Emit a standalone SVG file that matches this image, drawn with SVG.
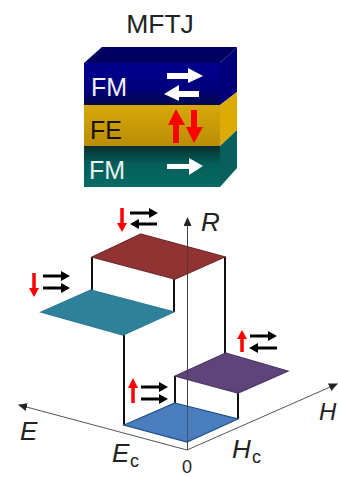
<svg xmlns="http://www.w3.org/2000/svg" width="338" height="477" viewBox="0 0 338 477">
<defs>
<linearGradient id="gBlue" x1="0" y1="0" x2="0" y2="1"><stop offset="0" stop-color="#00008f"/><stop offset="0.6" stop-color="#00007e"/><stop offset="1" stop-color="#000a4a"/></linearGradient>
<linearGradient id="gGold" x1="0" y1="0" x2="0" y2="1"><stop offset="0" stop-color="#d8a806"/><stop offset="1" stop-color="#b98d08"/></linearGradient>
<linearGradient id="gTeal" x1="0" y1="0" x2="0" y2="1"><stop offset="0" stop-color="#07302f"/><stop offset="0.45" stop-color="#055f5c"/><stop offset="1" stop-color="#066a64"/></linearGradient>
<marker id="ax" markerWidth="10" markerHeight="8" refX="8" refY="4" orient="auto" markerUnits="userSpaceOnUse"><path d="M0 0L9 4L0 8Z" fill="#222"/></marker>
</defs>
<style>
text{font-family:"Liberation Sans",Arial,sans-serif}
.i{font-style:italic;fill:#222}
.axis{stroke:#555;stroke-width:1;fill:none;marker-end:url(#ax)}
.wall{stroke:#111;stroke-width:2;fill:none}
.wh{fill:#fff}
.k{stroke:#000;stroke-width:3;fill:none}
.kh{fill:#000}
.r{stroke:#f00;stroke-width:3.5;fill:none}
.rh{fill:#f00}
.plate{stroke-width:1.2}
</style>
<rect width="338" height="477" fill="#fff"/>
<g id="stack">
<text x="160" y="33" font-size="26.5" text-anchor="middle" fill="#222">MFTJ</text>
<path d="M84 63L102 47H237L220 63Z" fill="#000060"/>
<rect x="84" y="63" width="136" height="42" fill="url(#gBlue)"/>
<path d="M220 63L237 47V92L220 105Z" fill="#00007a"/>
<rect x="84" y="105" width="136" height="41" fill="url(#gGold)"/>
<path d="M220 105L237 92V130L220 146Z" fill="#dcab06"/>
<rect x="84" y="146" width="136" height="41" fill="url(#gTeal)"/>
<path d="M220 146L237 130V168L220 187Z" fill="#07605c"/>
<text x="91" y="96" font-size="25" fill="#f2f2f2">FM</text>
<text x="90" y="139" font-size="25" fill="#1a1200">FE</text>
<text x="89" y="179" font-size="25" fill="#e8f0ee">FM</text>
<path class="wh" d="M167 73H188V68L203 76L188 83V79H167Z"/>
<path class="wh" d="M199 91H179V85L164 94L179 101V97H199Z"/>
<path class="wh" d="M167 164H189V158L203 166L189 175V169H167Z"/>
<path class="rh" d="M176 109L185 125H179V143H173V125H168Z"/>
<path class="rh" d="M191 110H197V127H203L194 143L186 127H191Z"/>
</g>
<g id="connectors">
<path class="axis" d="M187.500 450V218"/>
<path class="axis" d="M187 450L19 405"/>
<path class="axis" d="M187 450L337 384"/>
<path class="wall" d="M92 257V290M174 279V312M225 257V353M124 335V425M175 376V403M238 393V419"/>
</g>
<g id="plate-red"><path class="plate" d="M141 234L225 257L175 279L92 257Z" fill="#923333" stroke="#6e2a2a"/></g>
<g id="plate-teal"><path class="plate" d="M91 290L174 312L123 335L41 312Z" fill="#2f819b" stroke="#2a7a90"/></g>
<g id="plate-purple"><path class="plate" d="M226 353L288 371L238 393L175 376Z" fill="#5f4479" stroke="#4a3565"/></g>
<g id="plate-blue"><path class="plate" d="M175 403L238 419L187 442L124 425Z" fill="#4a7dbd" stroke="#1f4f86"/></g>
<path d="M187.500 219V450" stroke="#333" stroke-opacity="0.55" stroke-width="1" fill="none"/>
<g id="state-top">
<path class="r" d="M122 208V224"/><path class="rh" d="M117 223H127L122 232Z"/>
<path class="k" d="M130 213H150"/><path class="kh" d="M149 208L158 213L149 218Z"/>
<path class="k" d="M157 224H138"/><path class="kh" d="M139 219L130 224L139 229Z"/>
</g>
<g id="state-left">
<path class="r" d="M34 273V289"/><path class="rh" d="M29 288H39L34 297Z"/>
<path class="k" d="M43 276H62"/><path class="kh" d="M61 271L70 276L61 281Z"/>
<path class="k" d="M43 288H62"/><path class="kh" d="M61 283L70 288L61 293Z"/>
</g>
<g id="state-right">
<path class="r" d="M242 338V352"/><path class="rh" d="M237 339H247L242 330Z"/>
<path class="k" d="M250 336H270"/><path class="kh" d="M268 331L277 336L268 341Z"/>
<path class="k" d="M277 348H257"/><path class="kh" d="M258 343L249 348L258 353Z"/>
</g>
<g id="state-bottom">
<path class="r" d="M133 387V403"/><path class="rh" d="M128 388H138L133 378Z"/>
<path class="k" d="M141 387H160"/><path class="kh" d="M159 382L168 387L159 392Z"/>
<path class="k" d="M141 399H160"/><path class="kh" d="M159 394L168 399L159 404Z"/>
</g>
<g id="labels">
<text class="i" x="201" y="231" font-size="26">R</text>
<text class="i" x="20" y="440" font-size="26">E</text>
<text class="i" x="319" y="420" font-size="24">H</text>
<text class="i" x="112" y="462" font-size="26">E</text>
<text x="130" y="467" font-size="18" fill="#222">c</text>
<text class="i" x="232" y="458" font-size="26">H</text>
<text x="252" y="463" font-size="18" fill="#222">c</text>
<text x="187" y="473" font-size="18" text-anchor="middle" fill="#222">0</text>
</g>
</svg>
